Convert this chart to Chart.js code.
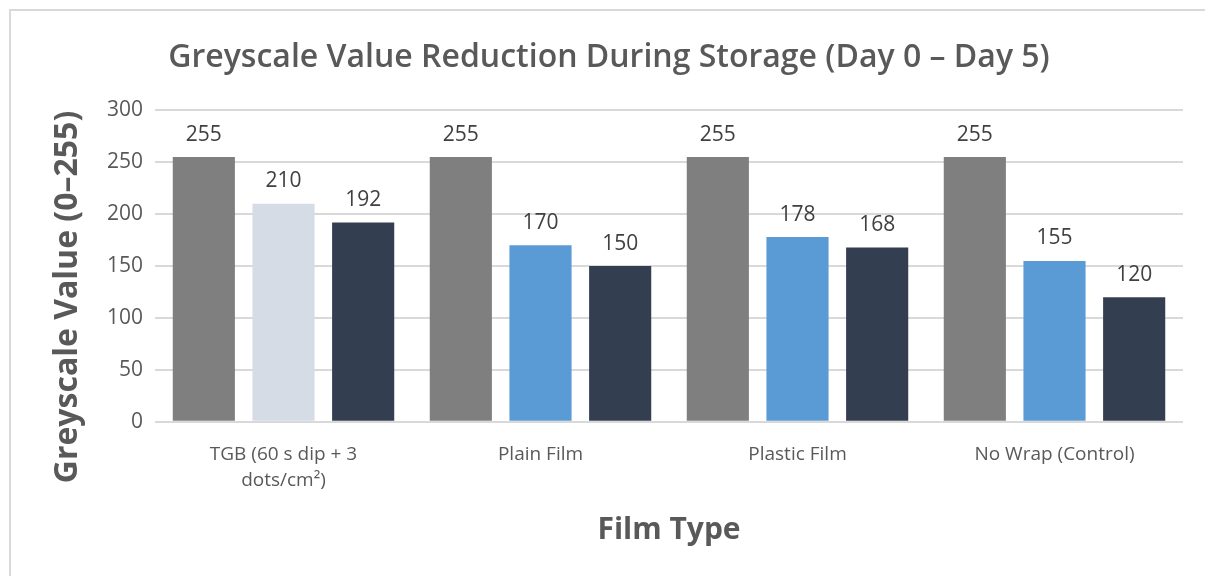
<!DOCTYPE html>
<html>
<head>
<meta charset="utf-8">
<script src="https://cdn.jsdelivr.net/npm/chart.js@4"></script>
<style>
    html, body { margin: 0; padding: 0; background: #fff; overflow: hidden; }
    #frame {
        position: absolute; left: 9px; top: 9px; width: 1300px; height: 700px;
        border: 2px solid #d9d9d9; box-sizing: border-box;
    }
    #wrap { position: absolute; left: 0; top: 0; width: 1205px; height: 576px; }
</style>
</head>
<body>
<div id="frame"></div>
<div id="wrap"><canvas id="myBarChart" width="1205" height="576"></canvas></div>
<script>
const categories = [['TGB (60 s dip + 3', 'dots/cm\u00b2)'], 'Plain Film', 'Plastic Film', 'No Wrap (Control)'];
const seriesNames = ['Day 0', 'Intermediate', 'Day 5'];
const day0Values = [255, 255, 255, 255];
const midValues = [210, 170, 178, 155];
const day5Values = [192, 150, 168, 120];
const yTicks = [0, 50, 100, 150, 200, 250, 300];

const greyTick = '#595959';

// Draw the value above each bar
const valueLabels = {
    id: 'valueLabels',
    afterDatasetsDraw(chart) {
        const ctx = chart.ctx;
        ctx.save();
        ctx.font = '21px "Open Sans"';
        ctx.fillStyle = '#404040';
        ctx.textAlign = 'center';
        ctx.textBaseline = 'bottom';
        chart.data.datasets.forEach((ds, i) => {
            chart.getDatasetMeta(i).data.forEach((bar, j) => {
                ctx.fillText(ds.data[j], bar.x, bar.y - 12);
            });
        });
        ctx.restore();
    }
};

// Y axis title, centred a bit lower than the plot like the original
const yTitle = {
    id: 'yTitle',
    afterDraw(chart) {
        const ctx = chart.ctx;
        ctx.save();
        ctx.translate(68, 297);
        ctx.rotate(-Math.PI / 2);
        ctx.font = 'bold 32px "Open Sans"';
        ctx.fillStyle = greyTick;
        ctx.textAlign = 'center';
        ctx.textBaseline = 'middle';
        ctx.fillText('Greyscale Value (0\u2013255)', 0, 0);
        ctx.restore();
    }
};

new Chart(document.getElementById('myBarChart').getContext('2d'), {
    type: 'bar',
    data: {
        labels: categories,
        datasets: [
            { label: seriesNames[0], data: day0Values, backgroundColor: '#7f7f7f' },
            { label: seriesNames[1], data: midValues, backgroundColor: ['#d6dce5', '#5b9bd5', '#5b9bd5', '#5b9bd5'] },
            { label: seriesNames[2], data: day5Values, backgroundColor: '#333f50' }
        ]
    },
    options: {
        responsive: false,
        animation: false,
        categoryPercentage: 0.93,
        barPercentage: 0.78,
        layout: { padding: { left: 35, right: 22, top: 39, bottom: 28 } },
        scales: {
            x: {
                grid: { display: false },
                border: { display: false },
                ticks: { color: greyTick, font: { family: 'Open Sans', size: 19, lineHeight: 1.4 }, maxRotation: 0, padding: 11 },
                title: {
                    display: true, text: 'Film Type', color: greyTick,
                    font: { family: 'Open Sans', size: 30, weight: 'bold' }, padding: { top: 7, bottom: 0 }
                }
            },
            y: {
                min: 0, max: 300,
                afterBuildTicks(scale) { scale.ticks = yTicks.map(v => ({ value: v })); },
                afterFit(scale) { scale.width = 120; },
                grid: { color: '#d9d9d9', lineWidth: 2, drawTicks: false },
                border: { display: false },
                ticks: { color: greyTick, font: { family: 'Open Sans', size: 21 }, padding: 12 }
            }
        },
        plugins: {
            legend: { display: false },
            tooltip: { enabled: false },
            title: {
                display: true,
                text: 'Greyscale Value Reduction During Storage (Day 0 \u2013 Day 5)',
                color: greyTick,
                font: { family: 'Open Sans', size: 32, weight: '600' },
                padding: { top: 0, bottom: 33 }
            }
        }
    },
    plugins: [valueLabels, yTitle]
});
</script>
</body>
</html>
